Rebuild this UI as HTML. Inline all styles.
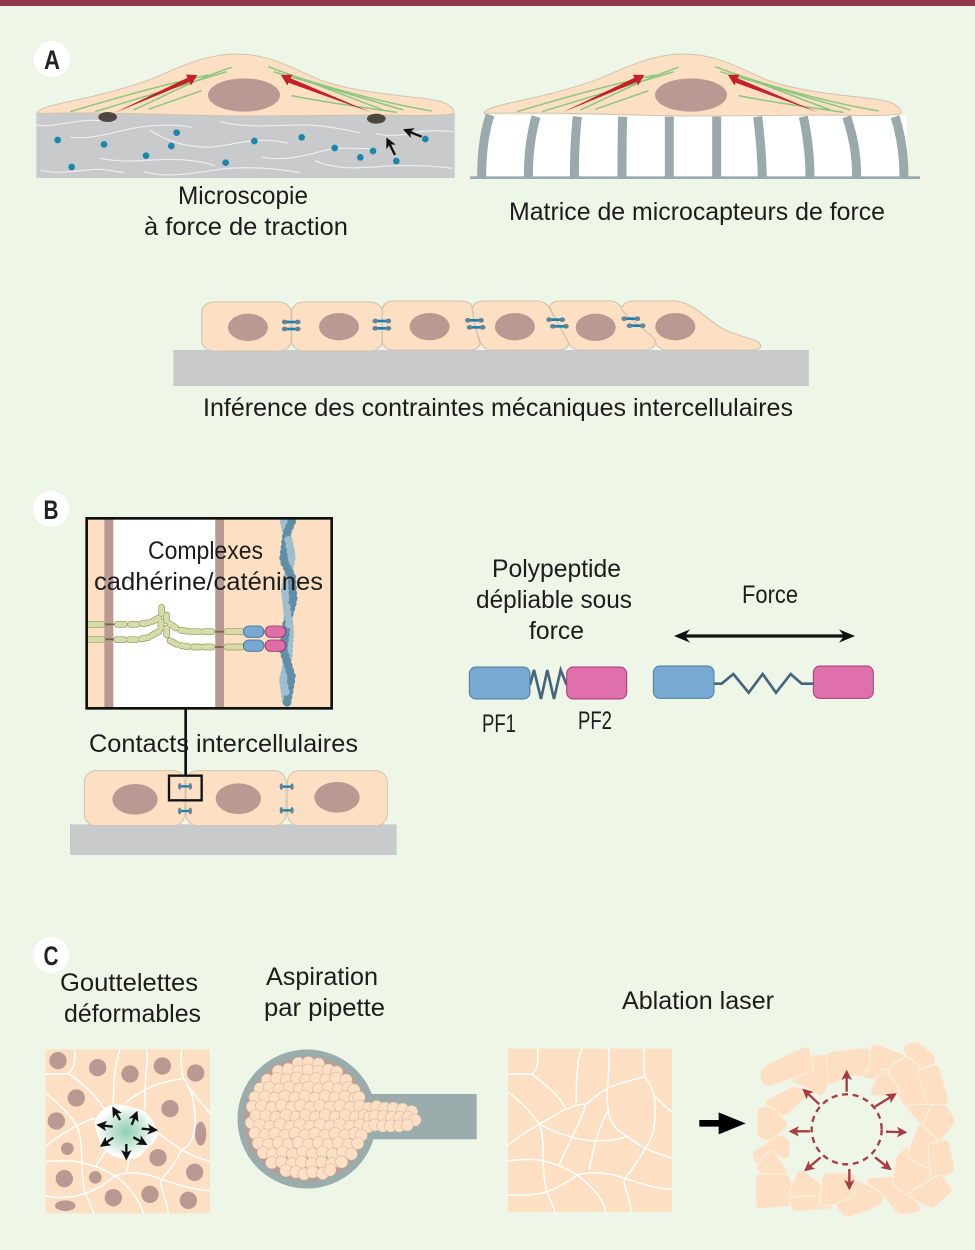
<!DOCTYPE html>
<html>
<head>
<meta charset="utf-8">
<style>
html,body{margin:0;padding:0;background:#eef6e8}
svg{display:block}
text{font-family:"Liberation Sans",sans-serif;font-size:25px;fill:#1c1c1c}
.bold{font-weight:bold;font-size:27px;fill:#222}
.w path{fill:none;stroke:#fff;stroke-width:4.5}
.g path{fill:none;stroke:#eceeee;stroke-width:3.5}
.fib path{fill:none;stroke:#8ac87e;stroke-width:4.5}
.p circle{r:18.5px;fill:#fddfc3;stroke:#c6b6a8;stroke-width:1.6px}
.a polygon{fill:#fddfc3;filter:url(#goo)}
.n{fill:#b99a92}
.cel{fill:#fddfc3;stroke:#cfc4ae;stroke-width:3}
</style>
</head>
<body>
<svg width="975" height="1250" viewBox="0 0 975 1250" xmlns="http://www.w3.org/2000/svg">
<defs>
<filter id="goo" x="-20%" y="-20%" width="140%" height="140%" color-interpolation-filters="sRGB">
<feGaussianBlur in="SourceGraphic" stdDeviation="6" result="b"/>
<feColorMatrix in="b" type="matrix" values="1 0 0 0 0 0 1 0 0 0 0 0 1 0 0 0 0 0 20 -6" result="g"/>
<feMorphology in="g" operator="dilate" radius="3" result="d"/>
<feFlood flood-color="#f6f0e2"/>
<feComposite in2="d" operator="in" result="o"/>
<feMerge><feMergeNode in="o"/><feMergeNode in="g"/></feMerge>
</filter>
<marker id="ak" viewBox="0 0 10 10" refX="8" refY="5" markerWidth="4.5" markerHeight="4.5" orient="auto"><path d="M0 0L10 5L0 10L2.5 5Z" fill="#111"/></marker>
<marker id="ar" viewBox="0 0 10 10" refX="8" refY="5" markerWidth="4.5" markerHeight="4.5" orient="auto"><path d="M0 0L10 5L0 10L2.5 5Z" fill="#a93a40"/></marker>
<radialGradient id="drop" cx=".5" cy=".5" r=".55"><stop offset="0" stop-color="#8fd0b0"/><stop offset=".5" stop-color="#cfe8de"/><stop offset=".85" stop-color="#fff"/></radialGradient>
<g id="cellA">
<path class="cel" d="M50 250C55 235 100 225 160 212C240 195 320 175 400 145C480 110 560 72 650 72C740 72 800 105 900 150C1000 185 1120 195 1210 205C1270 212 1300 225 1303 250C1290 257 1200 258 1100 255L700 258C500 258 300 245 50 250Z"/>
<ellipse class="n" cx="672" cy="195" rx="108" ry="50"/>
<g class="fib">
<path d="M150 245C300 200 450 160 565 135"/><path d="M225 245L620 125"/><path d="M340 240C430 200 520 150 635 112"/><path d="M385 238L545 182"/>
<path d="M745 110C900 170 1100 220 1235 243"/><path d="M760 125L1150 240"/><path d="M815 197C900 215 1050 235 1130 247"/><path d="M800 130L1090 240"/>
</g>
<path d="M285 248L505 142L511 155Z" fill="#c4202a"/>
<path d="M532 135L498 134L513 166Z" fill="#c4202a"/>
<path d="M1055 248L810 144L803 157Z" fill="#c4202a"/>
<path d="M783 135L817 134L802 166Z" fill="#c4202a"/>
</g>
<g id="j1"><line x1="-16" x2="16" stroke="#1583ad" stroke-width="8"/><circle cx="-16" r="7" fill="#62829a"/><circle cx="16" r="7" fill="#62829a"/></g>
<g id="j2"><line x1="-14" x2="14" stroke="#1583ad" stroke-width="7"/><ellipse cx="-16" rx="5" ry="10" fill="#62829a"/><ellipse cx="16" rx="5" ry="10" fill="#62829a"/></g>
<path id="beads" fill="none" stroke-linecap="round" d="M178 403H216M262 403H284M302 403H320M336 401L356 398M368 394L386 384M178 448H216M260 449H282M298 449H318M334 447L356 442M366 436L386 425M395 352V370M393 395V415M410 375V392M410 415V435M420 402L438 414M452 421L474 424M486 425H508M522 425H546M590 425H636M420 452L440 463M454 467L474 470M490 471H510M524 471H546M590 471H636"/>
</defs>

<rect width="975" height="1250" fill="#eef6e8"/>
<rect width="975" height="6" fill="#8e3a4c"/>

<!-- A -->
<circle cx="52" cy="59" r="18" fill="#fff"/>
<text class="bold" x="52" y="69" text-anchor="middle" textLength="16" lengthAdjust="spacingAndGlyphs">A</text>

<g transform="translate(20,30) scale(.33333)">
<rect x="49" y="250" width="1255" height="194" fill="#c8cacc"/>
<g class="g">
<path d="M50 285C100 295 170 265 240 272"/><path d="M150 322C230 330 290 300 370 290C430 283 480 285 515 292"/><path d="M390 300C440 335 500 350 560 352C620 350 650 335 703 332C740 330 780 332 805 340"/><path d="M240 385C320 400 360 390 440 388C500 388 550 395 585 407"/><path d="M62 420C110 435 180 420 230 418C260 418 290 425 310 428"/><path d="M370 425C440 445 520 430 600 418C680 408 770 415 840 428"/><path d="M600 275C680 295 760 285 850 285C900 285 960 295 1018 308"/><path d="M725 382C800 395 860 375 920 360C970 350 1020 358 1060 355"/><path d="M885 392C950 420 1020 415 1100 408C1170 405 1240 408 1298 415"/><path d="M1068 310C1100 322 1150 315 1200 305C1240 300 1270 302 1300 305"/>
</g>
<use href="#cellA"/>
<ellipse cx="263" cy="261" rx="28" ry="15" fill="#4f4640"/>
<ellipse cx="1069" cy="266" rx="28" ry="15" fill="#4f4640"/>
<g fill="#1b87ad">
<circle cx="113" cy="330" r="10"/><circle cx="252" cy="343" r="10"/><circle cx="470" cy="308" r="10"/><circle cx="454" cy="348" r="10"/><circle cx="378" cy="377" r="10"/><circle cx="155" cy="411" r="10"/><circle cx="703" cy="333" r="10"/><circle cx="845" cy="322" r="10"/><circle cx="617" cy="398" r="10"/><circle cx="944" cy="354" r="10"/><circle cx="1059" cy="363" r="10"/><circle cx="1021" cy="382" r="10"/><circle cx="1129" cy="393" r="10"/><circle cx="1216" cy="327" r="10"/>
</g>
<path d="M1205 320L1155 300" stroke="#111" stroke-width="7" marker-end="url(#ak)"/>
<path d="M1125 375L1102 328" stroke="#111" stroke-width="7" marker-end="url(#ak)"/>
</g>
<text x="178" y="204" textLength="130" lengthAdjust="spacingAndGlyphs">Microscopie</text>
<text x="144" y="235" textLength="204" lengthAdjust="spacingAndGlyphs">à force de traction</text>

<g transform="translate(460,40) scale(.33333)">
<rect x="70" y="225" width="1270" height="187" fill="#fff"/>
<g fill="none" stroke="#9aa9ab" stroke-width="27">
<path d="M90 225C72 280 65 340 65 410"/><path d="M228 230C212 285 205 340 205 410"/><path d="M352 230C346 285 343 340 343 410"/><path d="M488 230C486 285 486 340 486 410"/><path d="M628 230V410"/><path d="M770 230V410"/><path d="M893 230C900 285 905 340 907 410"/><path d="M1030 230C1042 285 1050 340 1050 410"/><path d="M1160 230C1178 285 1190 340 1190 410"/><path d="M1305 230C1323 285 1332 340 1332 410"/>
</g>
<rect x="30" y="409" width="1350" height="8" fill="#9aa9ab"/>
</g>
<g transform="translate(467,30) scale(.33333)"><use href="#cellA"/></g>
<text x="509" y="220" textLength="376" lengthAdjust="spacingAndGlyphs">Matrice de microcapteurs de force</text>

<g transform="translate(170,290) scale(.40816,.33333)">
<rect x="8" y="180" width="1557" height="108" fill="#c8cacc"/>
<rect class="cel" x="78" y="36" width="219" height="147" rx="30"/>
<rect class="cel" x="298" y="36" width="222" height="147" rx="30"/>
<path class="cel" d="M550 33L710 33Q735 33 740 50C745 90 750 130 760 160Q755 180 735 180L550 180Q520 180 520 150L520 65Q520 33 550 33Z"/>
<path class="cel" d="M770 33L900 33Q920 33 930 55C945 90 965 130 977 160Q975 180 950 180L790 180Q770 180 762 160C750 130 745 90 740 55Q745 33 770 33Z"/>
<path class="cel" d="M955 33L1080 33Q1100 35 1110 60C1130 100 1190 135 1190 158Q1185 180 1160 180L1005 180Q985 180 977 160C965 130 945 90 930 50Q935 33 955 33Z"/>
<path class="cel" d="M1135 33L1240 33C1290 40 1320 100 1370 125C1410 145 1450 150 1447 170Q1445 180 1420 180L1215 180Q1195 178 1190 158C1190 135 1130 100 1105 55Q1115 33 1135 33Z"/>
<g class="n"><ellipse cx="191" cy="112" rx="49" ry="41"/><ellipse cx="414" cy="110" rx="49" ry="41"/><ellipse cx="636" cy="110" rx="49" ry="41"/><ellipse cx="845" cy="110" rx="49" ry="41"/><ellipse cx="1043" cy="112" rx="49" ry="41"/><ellipse cx="1238" cy="110" rx="49" ry="41"/></g>
<use href="#j1" x="297" y="96"/><use href="#j1" x="297" y="117"/><use href="#j1" x="519" y="93"/><use href="#j1" x="519" y="115"/><use href="#j1" x="746" y="91"/><use href="#j1" x="750" y="112"/><use href="#j1" x="945" y="89"/><use href="#j1" x="954" y="109"/><use href="#j1" x="1129" y="86"/><use href="#j1" x="1142" y="107"/>
</g>
<text x="203" y="416" textLength="590" lengthAdjust="spacingAndGlyphs">Inférence des contraintes mécaniques intercellulaires</text>

<!-- B -->
<circle cx="51" cy="509" r="18" fill="#fff"/>
<text class="bold" x="51" y="519" text-anchor="middle" textLength="15" lengthAdjust="spacingAndGlyphs">B</text>

<g transform="translate(30,490) scale(.33333)">
<rect x="170" y="85" width="735" height="570" fill="#fddfc3"/>
<rect x="250" y="85" width="305" height="570" fill="#fff"/>
<rect x="223" y="85" width="27" height="570" fill="#b99a92"/>
<rect x="556" y="85" width="26" height="570" fill="#b99a92"/>
<path d="M762 95L775 150L785 200L765 300L780 420L775 500L760 570L770 645" fill="none" stroke="#a0bfce" stroke-width="26" stroke-linecap="round" stroke-dasharray="0 14"/>
<path d="M785 95L770 130L760 210L785 260L790 330L770 400L760 480L785 560L770 645" fill="none" stroke="#5f8ea6" stroke-width="26" stroke-linecap="round" stroke-dasharray="0 16"/>
<path d="M775 150L785 200M770 350L780 420M760 570L770 620" fill="none" stroke="#a0bfce" stroke-width="24" stroke-linecap="round" stroke-dasharray="0 18"/>
<path d="M222 403H255M222 448H255M552 425H585M552 471H585" stroke="#6a6058" stroke-width="5" fill="none"/>
<use href="#beads" stroke="#8e9a62" stroke-width="20"/>
<use href="#beads" stroke="#d7dba8" stroke-width="16"/>
<rect x="640" y="408" width="62" height="34" rx="17" fill="#78a9d3" stroke="#3b6e9e" stroke-width="2.5"/>
<rect x="640" y="450" width="62" height="34" rx="17" fill="#78a9d3" stroke="#3b6e9e" stroke-width="2.5"/>
<rect x="705" y="408" width="62" height="34" rx="17" fill="#de6ea8" stroke="#9c2e62" stroke-width="2.5"/>
<rect x="705" y="450" width="62" height="34" rx="17" fill="#de6ea8" stroke="#9c2e62" stroke-width="2.5"/>
<rect x="170" y="85" width="735" height="570" fill="none" stroke="#111" stroke-width="8"/>
<rect x="120" y="1003" width="980" height="92" fill="#c8cacc"/>
<rect class="cel" x="163" y="842" width="302" height="165" rx="35"/>
<rect class="cel" x="468" y="842" width="300" height="165" rx="35"/>
<rect class="cel" x="772" y="842" width="300" height="165" rx="35"/>
<g class="n"><ellipse cx="315" cy="928" rx="68" ry="46"/><ellipse cx="625" cy="926" rx="68" ry="46"/><ellipse cx="921" cy="922" rx="68" ry="46"/></g>
<use href="#j2" x="465" y="889"/><use href="#j2" x="465" y="963"/><use href="#j2" x="770" y="890"/><use href="#j2" x="770" y="961"/>
<path d="M467 655V857" stroke="#111" stroke-width="8"/>
<rect x="417" y="857" width="98" height="74" fill="none" stroke="#111" stroke-width="7"/>
</g>
<text x="148" y="559" textLength="115" lengthAdjust="spacingAndGlyphs">Complexes</text>
<text x="94" y="590" textLength="229" lengthAdjust="spacingAndGlyphs">cadhérine/caténines</text>
<text x="89" y="752" textLength="269" lengthAdjust="spacingAndGlyphs">Contacts intercellulaires</text>

<g transform="translate(460,550) scale(.33333)">
<path d="M210 405L222 360L243 447L262 360L282 447L302 360L320 405" fill="none" stroke="#466579" stroke-width="8"/>
<rect x="28" y="351" width="182" height="96" rx="20" fill="#78a9d3" stroke="#4a7c9e" stroke-width="3"/>
<rect x="320" y="351" width="180" height="96" rx="20" fill="#e06fae" stroke="#a83a72" stroke-width="3"/>
<path d="M762 401H785L820 372L866 428L908 372L948 428L992 372L1025 401H1060" fill="none" stroke="#466579" stroke-width="8"/>
<rect x="580" y="348" width="182" height="97" rx="20" fill="#78a9d3" stroke="#4a7c9e" stroke-width="3"/>
<rect x="1060" y="348" width="180" height="97" rx="20" fill="#e06fae" stroke="#a83a72" stroke-width="3"/>
<path d="M670 258H1160" stroke="#111" stroke-width="10"/>
<path d="M642 258L690 238L675 258L690 278Z" fill="#111"/>
<path d="M1185 258L1137 238L1152 258L1137 278Z" fill="#111"/>
</g>
<text x="492" y="577" textLength="129" lengthAdjust="spacingAndGlyphs">Polypeptide</text>
<text x="476" y="608" textLength="156" lengthAdjust="spacingAndGlyphs">dépliable sous</text>
<text x="529" y="639" textLength="55" lengthAdjust="spacingAndGlyphs">force</text>
<text x="742" y="603" textLength="56" lengthAdjust="spacingAndGlyphs">Force</text>
<text x="482" y="732" textLength="34" lengthAdjust="spacingAndGlyphs">PF1</text>
<text x="578" y="729" textLength="34" lengthAdjust="spacingAndGlyphs">PF2</text>

<!-- C -->
<circle cx="51" cy="955" r="18" fill="#fff"/>
<text class="bold" x="51" y="965" text-anchor="middle" textLength="15" lengthAdjust="spacingAndGlyphs">C</text>
<text x="60" y="991" textLength="138" lengthAdjust="spacingAndGlyphs">Gouttelettes</text>
<text x="64" y="1022" textLength="137" lengthAdjust="spacingAndGlyphs">déformables</text>
<text x="266" y="985" textLength="112" lengthAdjust="spacingAndGlyphs">Aspiration</text>
<text x="264" y="1016" textLength="121" lengthAdjust="spacingAndGlyphs">par pipette</text>
<text x="622" y="1009" textLength="152" lengthAdjust="spacingAndGlyphs">Ablation laser</text>

<g transform="translate(30,1040) scale(.33333)">
<rect x="47" y="28" width="493" height="492" rx="6" fill="#fddfc3"/>
<g class="n">
<circle cx="84" cy="62" r="26"/><circle cx="203" cy="83" r="26"/><circle cx="300" cy="102" r="26"/><circle cx="397" cy="78" r="26"/><circle cx="497" cy="99" r="26"/><circle cx="139" cy="174" r="26"/><circle cx="420" cy="206" r="26"/><circle cx="79" cy="243" r="26"/><circle cx="112" cy="326" r="19"/><circle cx="384" cy="353" r="26"/><circle cx="494" cy="397" r="26"/><circle cx="103" cy="416" r="26"/><circle cx="196" cy="412" r="19"/><circle cx="250" cy="473" r="26"/><circle cx="360" cy="463" r="26"/><circle cx="475" cy="481" r="26"/><ellipse cx="512" cy="281" rx="17" ry="36"/><ellipse cx="106" cy="497" rx="31" ry="16"/>
</g>
<g class="w">
<path d="M135 28C135 60 135 85 115 100C95 105 70 100 47 103"/><path d="M115 100C150 125 190 155 225 210"/><path d="M270 28C255 70 250 130 250 190"/><path d="M350 28C355 70 345 110 345 150C345 170 345 190 345 210"/><path d="M455 28C450 60 455 90 460 115C400 125 370 135 345 150C320 165 300 175 285 190"/><path d="M460 115C490 150 495 200 495 250C495 300 470 325 455 330"/><path d="M470 135C495 165 520 195 540 220"/><path d="M47 160C85 190 120 225 140 257C160 250 180 235 195 235"/><path d="M47 320C80 290 110 275 140 257"/><path d="M140 257C155 290 155 330 155 365C155 400 160 430 165 460"/><path d="M47 365C90 360 130 362 155 368C190 375 225 390 255 408"/><path d="M47 468C90 475 130 475 165 460C195 450 230 430 255 408C300 390 350 400 395 418C430 430 490 450 540 452"/><path d="M165 460C175 480 185 500 190 520"/><path d="M255 408C290 430 330 480 340 520"/><path d="M395 418C385 440 410 470 415 520"/><path d="M395 418C420 390 440 360 455 330C480 345 510 355 540 365"/><path d="M385 280C410 300 435 315 455 330"/><path d="M225 335L197 380"/><path d="M297 355L290 395"/>
</g>
<path d="M240 195C270 185 300 205 335 208C365 225 375 260 385 280C380 310 350 320 330 350C290 365 240 355 215 320C205 295 200 280 192 245C205 220 220 205 240 195Z" fill="url(#drop)"/>
<g stroke="#111" stroke-width="7">
<path d="M270 240L250 205" marker-end="url(#ak)"/><path d="M305 255L320 218" marker-end="url(#ak)"/><path d="M248 260L205 255" marker-end="url(#ak)"/><path d="M335 266L378 270" marker-end="url(#ak)"/><path d="M250 293L215 317" marker-end="url(#ak)"/><path d="M310 292L347 312" marker-end="url(#ak)"/><path d="M289 312V355" marker-end="url(#ak)"/>
</g>

<circle cx="831" cy="237" r="198" fill="#b89e94" stroke="#9aacac" stroke-width="21"/>
<rect x="1022" y="162" width="318" height="136" fill="#9aacac"/>
<g class="p">
<circle cx="805" cy="70"/><circle cx="835" cy="68"/><circle cx="865" cy="72"/>
<circle cx="745" cy="94"/><circle cx="775" cy="88"/><circle cx="805" cy="94"/><circle cx="835" cy="90"/><circle cx="865" cy="94"/><circle cx="895" cy="90"/><circle cx="920" cy="96"/>
<circle cx="712" cy="120"/><circle cx="740" cy="116"/><circle cx="770" cy="120"/><circle cx="800" cy="114"/><circle cx="828" cy="120"/><circle cx="858" cy="116"/><circle cx="888" cy="120"/><circle cx="918" cy="115"/><circle cx="948" cy="120"/>
<circle cx="690" cy="146"/><circle cx="718" cy="143"/><circle cx="748" cy="148"/><circle cx="778" cy="142"/><circle cx="808" cy="147"/><circle cx="836" cy="142"/><circle cx="866" cy="147"/><circle cx="896" cy="142"/><circle cx="925" cy="147"/><circle cx="955" cy="143"/><circle cx="972" cy="150"/>
<circle cx="675" cy="172"/><circle cx="705" cy="170"/><circle cx="735" cy="175"/><circle cx="765" cy="169"/><circle cx="795" cy="174"/><circle cx="825" cy="169"/><circle cx="855" cy="175"/><circle cx="885" cy="169"/><circle cx="915" cy="174"/><circle cx="945" cy="170"/><circle cx="975" cy="175"/><circle cx="987" cy="172"/>
<circle cx="667" cy="200"/><circle cx="695" cy="198"/><circle cx="725" cy="203"/><circle cx="755" cy="197"/><circle cx="785" cy="202"/><circle cx="812" cy="197"/><circle cx="840" cy="203"/><circle cx="870" cy="197"/><circle cx="900" cy="202"/><circle cx="930" cy="197"/><circle cx="960" cy="203"/><circle cx="990" cy="199"/><circle cx="1015" cy="205"/>
<circle cx="664" cy="248"/><circle cx="678" cy="226"/><circle cx="708" cy="228"/><circle cx="738" cy="232"/><circle cx="768" cy="226"/><circle cx="798" cy="232"/><circle cx="826" cy="226"/><circle cx="856" cy="231"/><circle cx="886" cy="225"/><circle cx="916" cy="231"/><circle cx="946" cy="226"/><circle cx="976" cy="231"/><circle cx="1003" cy="226"/><circle cx="1018" cy="232"/>
<circle cx="690" cy="255"/><circle cx="720" cy="260"/><circle cx="750" cy="254"/><circle cx="780" cy="260"/><circle cx="810" cy="254"/><circle cx="840" cy="259"/><circle cx="870" cy="254"/><circle cx="900" cy="259"/><circle cx="930" cy="254"/><circle cx="960" cy="259"/><circle cx="990" cy="255"/><circle cx="1015" cy="260"/>
<circle cx="675" cy="280"/><circle cx="705" cy="285"/><circle cx="735" cy="281"/><circle cx="765" cy="286"/><circle cx="795" cy="280"/><circle cx="825" cy="286"/><circle cx="855" cy="281"/><circle cx="885" cy="286"/><circle cx="915" cy="281"/><circle cx="945" cy="286"/><circle cx="975" cy="281"/><circle cx="994" cy="286"/>
<circle cx="685" cy="310"/><circle cx="715" cy="314"/><circle cx="745" cy="308"/><circle cx="775" cy="314"/><circle cx="805" cy="308"/><circle cx="835" cy="314"/><circle cx="865" cy="308"/><circle cx="895" cy="314"/><circle cx="925" cy="309"/><circle cx="955" cy="314"/><circle cx="983" cy="310"/>
<circle cx="700" cy="338"/><circle cx="728" cy="342"/><circle cx="758" cy="336"/><circle cx="788" cy="342"/><circle cx="818" cy="336"/><circle cx="848" cy="342"/><circle cx="878" cy="336"/><circle cx="908" cy="342"/><circle cx="938" cy="337"/><circle cx="964" cy="342"/>
<circle cx="725" cy="368"/><circle cx="755" cy="366"/><circle cx="785" cy="371"/><circle cx="815" cy="366"/><circle cx="845" cy="371"/><circle cx="875" cy="366"/><circle cx="905" cy="371"/><circle cx="935" cy="366"/>
<circle cx="768" cy="392"/><circle cx="798" cy="396"/><circle cx="822" cy="402"/><circle cx="848" cy="396"/><circle cx="878" cy="400"/><circle cx="900" cy="390"/>
<circle cx="1040" cy="200"/><circle cx="1065" cy="205"/><circle cx="1090" cy="205"/><circle cx="1118" cy="208"/><circle cx="1145" cy="215"/><circle cx="1035" cy="228"/><circle cx="1060" cy="230"/><circle cx="1085" cy="232"/><circle cx="1110" cy="232"/><circle cx="1135" cy="232"/><circle cx="1155" cy="240"/><circle cx="1035" cy="255"/><circle cx="1058" cy="258"/><circle cx="1082" cy="258"/><circle cx="1108" cy="258"/><circle cx="1132" cy="255"/>
</g>
</g>

<g transform="translate(500,1035) scale(.33333)">
<rect x="24" y="41" width="492" height="490" rx="6" fill="#fddfc3"/>
<g class="w">
<path d="M113 41C113 80 115 105 95 117C70 120 45 113 24 118"/><path d="M95 117C130 145 175 175 197 222"/><path d="M245 41C230 80 230 130 228 205"/><path d="M325 41C330 80 325 120 322 160C320 190 322 215 325 225"/><path d="M432 41C430 80 432 105 435 125C395 135 355 145 322 160C295 175 275 195 257 208C240 205 220 215 197 222C170 235 145 255 118 267"/><path d="M435 125C455 150 470 190 465 240C465 290 450 320 435 340"/><path d="M460 180L516 232"/><path d="M24 172C65 200 100 240 118 267"/><path d="M24 330C60 300 90 285 118 267"/><path d="M118 267C170 295 240 320 300 317C340 317 365 312 380 303"/><path d="M118 267C130 300 130 340 130 378C130 420 135 450 140 470"/><path d="M24 378C70 372 110 372 130 378C165 385 200 400 232 420"/><path d="M24 480C70 483 110 480 140 470C175 458 205 440 232 420C280 405 330 415 375 430C420 445 470 462 516 462"/><path d="M140 470C150 495 160 510 165 531"/><path d="M232 420C270 450 310 490 318 531"/><path d="M375 430C365 450 390 480 393 531"/><path d="M375 430C395 405 420 370 435 340C460 350 490 362 516 370"/><path d="M325 225C325 260 355 290 380 303C400 320 420 330 435 340"/><path d="M257 208C245 255 215 305 177 390"/><path d="M325 225C300 270 280 330 268 405"/>
</g>
<path d="M598 255H656V232L737 265L656 298V275H598Z" fill="#000"/>
<g class="a">
<polygon points="870,130 930,66 998,62 985,135 965,182 930,160"/>
<polygon points="782,115 800,95 922,36 937,105 880,125 795,152"/>
<polygon points="985,55 1100,42 1116,60 1110,122 1050,116 988,148"/>
<polygon points="1115,28 1218,65 1170,102 1165,130 1085,126 1115,100"/>
<polygon points="1210,38 1250,22 1305,70 1282,108 1248,102"/>
<polygon points="1168,100 1220,68 1262,105 1292,212 1220,216 1188,160"/>
<polygon points="1255,108 1312,92 1340,190 1337,212 1290,216"/>
<polygon points="1147,100 1200,172 1112,180"/>
<polygon points="798,200 880,158 928,170 856,238 815,242"/>
<polygon points="776,222 810,216 862,268 810,316 776,302"/>
<polygon points="758,356 842,302 866,320 862,374 830,352 772,388"/>
<polygon points="772,396 815,346 864,422 798,434"/>
<polygon points="772,422 862,422 888,507 772,518"/>
<polygon points="872,470 900,405 964,455 968,482 878,492"/>
<polygon points="872,490 966,484 1003,516 878,525"/>
<polygon points="972,418 1062,420 1078,495 962,510"/>
<polygon points="1006,510 1070,488 1060,436 1154,480 1132,512 1040,544"/>
<polygon points="1096,435 1182,428 1264,526 1198,536 1148,472"/>
<polygon points="1182,445 1192,368 1225,336 1294,396 1288,442 1225,478"/>
<polygon points="1222,365 1265,260 1324,310 1292,398"/>
<polygon points="1288,330 1342,318 1360,406 1298,442"/>
<polygon points="1226,480 1320,422 1355,465 1295,518"/>
<polygon points="1218,213 1302,213 1270,268"/>
<polygon points="1298,213 1337,213 1362,258 1320,314 1272,270"/>
</g>
<circle cx="1040" cy="283" r="105" fill="none" stroke="#a93a40" stroke-width="7" stroke-dasharray="18 14"/>
<g stroke="#a93a40" stroke-width="7" fill="none">
<path d="M1040 170L1040 110" marker-end="url(#ar)"/><path d="M958 208L912 165" marker-end="url(#ar)"/><path d="M1125 215L1185 178" marker-end="url(#ar)"/><path d="M930 289L872 289" marker-end="url(#ar)"/><path d="M1158 290L1216 292" marker-end="url(#ar)"/><path d="M962 367L917 405" marker-end="url(#ar)"/><path d="M1125 367L1170 402" marker-end="url(#ar)"/><path d="M1048 402L1048 460" marker-end="url(#ar)"/>
</g>
</g>
</svg>
</body>
</html>
